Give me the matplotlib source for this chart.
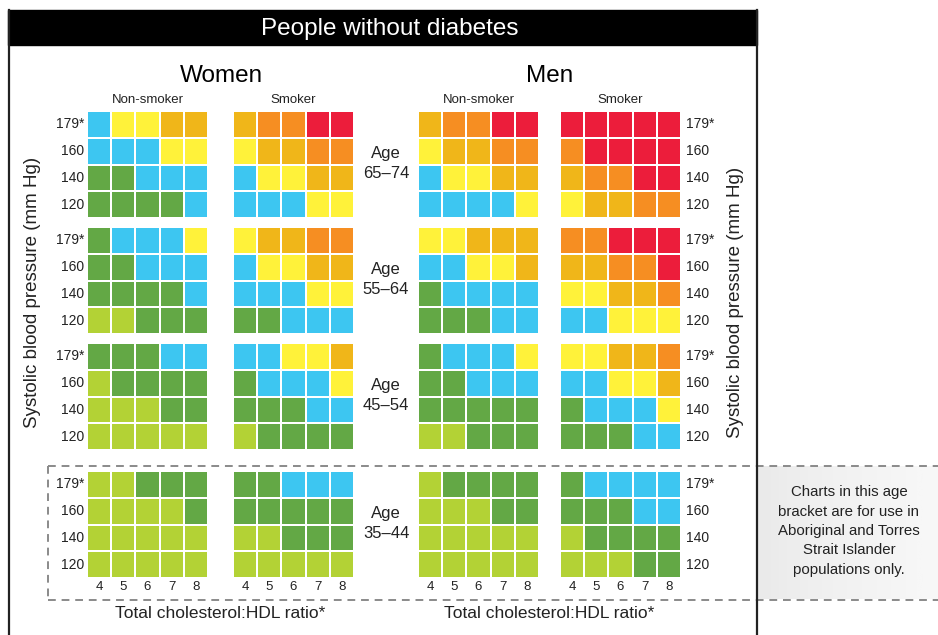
import numpy as np
import matplotlib
matplotlib.use("Agg")
import matplotlib.pyplot as plt
from matplotlib.colors import ListedColormap, BoundaryNorm
from matplotlib.patches import Rectangle

plt.rcParams['font.family'] = ['Liberation Sans', 'DejaVu Sans']

# ---------------- data ----------------
ratios = ['4', '5', '6', '7', '8']               # Total cholesterol:HDL ratio
sbp_labels = ['179*', '160', '140', '120']       # Systolic blood pressure rows (top->bottom)
age_groups = ['65–74', '55–64', '45–54', '35–44']
groups = ['Non-smoker', 'Smoker', 'Non-smoker', 'Smoker']
sexes = ['Women', 'Men']

# risk category colours (0 = lowest ... 6 = highest)
risk_colors = ['#b3d235', '#63a845', '#3dc6f1', '#fff23a', '#f0b619', '#f68e22', '#ec1d3b']

# risk category per cell, rows = SBP (179, 160, 140, 120), cols = ratio 4..8
women_ns_65 = [[2, 3, 3, 4, 4], [2, 2, 2, 3, 3], [1, 1, 2, 2, 2], [1, 1, 1, 1, 2]]
women_s_65 = [[4, 5, 5, 6, 6], [3, 4, 4, 5, 5], [2, 3, 3, 4, 4], [2, 2, 2, 3, 3]]
men_ns_65 = [[4, 5, 5, 6, 6], [3, 4, 4, 5, 5], [2, 3, 3, 4, 4], [2, 2, 2, 2, 3]]
men_s_65 = [[6, 6, 6, 6, 6], [5, 6, 6, 6, 6], [4, 5, 5, 6, 6], [3, 4, 4, 5, 5]]

women_ns_55 = [[1, 2, 2, 2, 3], [1, 1, 2, 2, 2], [1, 1, 1, 1, 2], [0, 0, 1, 1, 1]]
women_s_55 = [[3, 4, 4, 5, 5], [2, 3, 3, 4, 4], [2, 2, 2, 3, 3], [1, 1, 2, 2, 2]]
men_ns_55 = [[3, 3, 4, 4, 4], [2, 2, 3, 3, 4], [1, 2, 2, 2, 2], [1, 1, 1, 2, 2]]
men_s_55 = [[5, 5, 6, 6, 6], [4, 4, 5, 5, 6], [3, 3, 4, 4, 5], [2, 2, 3, 3, 3]]

women_ns_45 = [[1, 1, 1, 2, 2], [0, 1, 1, 1, 1], [0, 0, 0, 1, 1], [0, 0, 0, 0, 0]]
women_s_45 = [[2, 2, 3, 3, 4], [1, 2, 2, 2, 3], [1, 1, 1, 2, 2], [0, 1, 1, 1, 1]]
men_ns_45 = [[1, 2, 2, 2, 3], [1, 1, 2, 2, 2], [1, 1, 1, 1, 1], [0, 0, 1, 1, 1]]
men_s_45 = [[3, 3, 4, 4, 5], [2, 2, 3, 3, 4], [1, 2, 2, 2, 3], [1, 1, 1, 2, 2]]

women_ns_35 = [[0, 0, 1, 1, 1], [0, 0, 0, 0, 1], [0, 0, 0, 0, 0], [0, 0, 0, 0, 0]]
women_s_35 = [[1, 1, 2, 2, 2], [1, 1, 1, 1, 1], [0, 0, 1, 1, 1], [0, 0, 0, 0, 0]]
men_ns_35 = [[0, 1, 1, 1, 1], [0, 0, 0, 1, 1], [0, 0, 0, 0, 0], [0, 0, 0, 0, 0]]
men_s_35 = [[1, 2, 2, 2, 2], [1, 1, 1, 2, 2], [0, 1, 1, 1, 1], [0, 0, 0, 1, 1]]

blocks = [
    [women_ns_65, women_s_65, men_ns_65, men_s_65],
    [women_ns_55, women_s_55, men_ns_55, men_s_55],
    [women_ns_45, women_s_45, men_ns_45, men_s_45],
    [women_ns_35, women_s_35, men_ns_35, men_s_35],
]

# ---------------- layout (pixel coordinates) ----------------
W, H = 938, 635
col_x = [(87, 208), (233, 354), (418, 539), (560, 681)]
row_y = [(111, 218), (227, 334), (343, 450), (471, 578)]

fig = plt.figure(figsize=(W / 100, H / 100), dpi=100)
ax = fig.add_axes([0, 0, 1, 1])
ax.set_xlim(0, W)
ax.set_ylim(H, 0)
ax.axis('off')

cmap = ListedColormap(risk_colors)
norm = BoundaryNorm(np.arange(-0.5, len(risk_colors) + 0.5, 1), cmap.N)

# dashed bracket for 35-44 and grey note box
grad = np.linspace(0.0, 1.0, 100).reshape(1, -1)
ax.imshow(grad, extent=(757, 938, 599, 466), cmap=ListedColormap(
    plt.cm.Greys(np.linspace(0.16, 0.06, 50))), aspect='auto', zorder=1)
dash_kw = dict(color='#8a8a8a', lw=1.4, dashes=(4, 3), zorder=2)
ax.plot([48, 938], [465.5, 465.5], **dash_kw)
ax.plot([48, 938], [600, 600], **dash_kw)
ax.plot([48, 48], [465.5, 600], **dash_kw)

# frame and title bar
ax.add_patch(Rectangle((8, 10), 749, 35, facecolor='black', edgecolor='black', zorder=3))
ax.plot([8.5, 8.5], [10, H], color='#222222', lw=1.6, zorder=3)
ax.plot([756.5, 756.5], [10, H], color='#222222', lw=1.6, zorder=3)
ax.text(390, 29, 'People without diabetes', color='white', fontsize=17.5,
        ha='center', va='center', zorder=4)

# headings
ax.text(221, 76, sexes[0], fontsize=17.5, ha='center', va='center')
ax.text(550, 76, sexes[1], fontsize=17.5, ha='center', va='center')
for (x0, x1), g in zip(col_x, groups):
    ax.text((x0 + x1) / 2, 100, g, fontsize=9.5, ha='center', va='center',
            color='#222222')

# grids
for ri, (y0, y1) in enumerate(row_y):
    yedges = np.linspace(y0, y1, len(sbp_labels) + 1)
    ycent = (yedges[:-1] + yedges[1:]) / 2
    for ci, (x0, x1) in enumerate(col_x):
        xedges = np.linspace(x0, x1, len(ratios) + 1)
        vals = np.array(blocks[ri][ci])
        ax.pcolormesh(xedges, yedges, vals, cmap=cmap, norm=norm,
                      edgecolors='white', linewidth=1.3, zorder=5)
    # SBP labels left and right
    for yc, lab in zip(ycent, sbp_labels):
        ax.text(col_x[0][0] - 3, yc, lab, fontsize=10, ha='right', va='center',
                color='#222222')
        ax.text(col_x[3][1] + 5, yc, lab, fontsize=10, ha='left', va='center',
                color='#222222')
    # age labels
    ym = (y0 + y1) / 2
    ax.text(386, ym - 11, 'Age', fontsize=12, ha='center', va='center', color='#222222')
    ax.text(386, ym + 9, age_groups[ri], fontsize=12, ha='center', va='center',
            color='#222222')

# ratio tick labels
for (x0, x1) in col_x:
    xedges = np.linspace(x0, x1, len(ratios) + 1)
    xc = (xedges[:-1] + xedges[1:]) / 2
    for x, lab in zip(xc, ratios):
        ax.text(x, 587, lab, fontsize=9.5, ha='center', va='center', color='#222222')

ax.text(220, 613, 'Total cholesterol:HDL ratio*', fontsize=12.5, ha='center',
        va='center', color='#222222')
ax.text(549, 613, 'Total cholesterol:HDL ratio*', fontsize=12.5, ha='center',
        va='center', color='#222222')

# axis titles
ax.text(33, 292, 'Systolic blood pressure (mm Hg)', fontsize=13.5, rotation=90,
        ha='center', va='center', color='#222222')
ax.text(735, 302, 'Systolic blood pressure (mm Hg)', fontsize=13.5, rotation=90,
        ha='center', va='center', color='#222222')

# note
ax.text(849, 531, 'Charts in this age\nbracket are for use in\nAboriginal and Torres\n'
        'Strait Islander\npopulations only.', fontsize=10.8, ha='center', va='center',
        linespacing=1.5, color='#222222', zorder=4)

fig.savefig('out.png', dpi=100)
